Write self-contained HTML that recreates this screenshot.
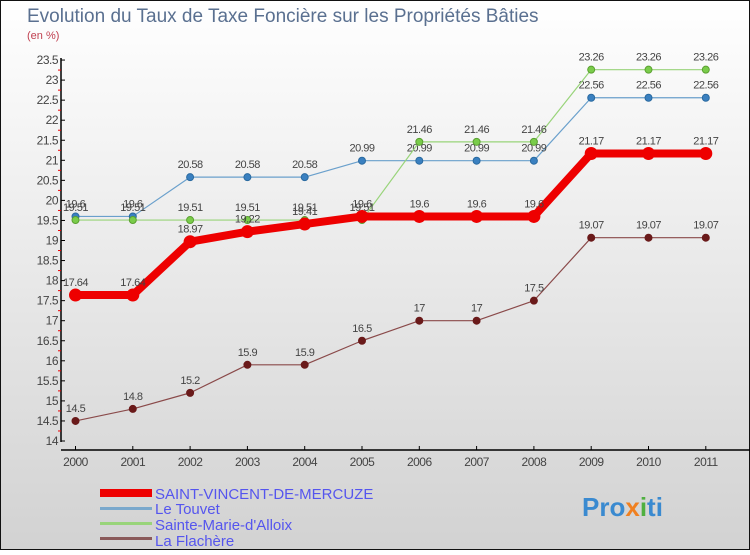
<!DOCTYPE html>
<html><head><meta charset="utf-8"><style>
body{margin:0}
#c{width:750px;height:550px;position:relative;font-family:"Liberation Sans",sans-serif}
</style></head><body>
<div id="c">
<svg id="s" width="750" height="550" xmlns="http://www.w3.org/2000/svg">
<defs><linearGradient id="bg" x1="0" y1="0" x2="0" y2="1"><stop offset="0" stop-color="#ffffff"/><stop offset="1" stop-color="#d2d2d2"/></linearGradient></defs>
<rect x="0.5" y="0.5" width="749" height="549" fill="url(#bg)" stroke="#111"/>
<text x="27" y="22" font-size="19" fill="#5a7090">Evolution du Taux de Taxe Foncière sur les Propriétés Bâties</text>
<text x="27" y="39" font-size="11" fill="#c04050">(en %)</text>
<g id="axes"></g><g id="series"></g>
<g>
<rect x="100" y="489" width="52" height="8" fill="#e00"/>
<text x="155" y="499" font-size="15" fill="#5555ee">SAINT-VINCENT-DE-MERCUZE</text>
<rect x="100" y="507" width="52" height="3" fill="#7aa8cc"/>
<text x="155" y="514" font-size="15" fill="#5555ee">Le Touvet</text>
<rect x="100" y="522" width="52" height="3" fill="#99d47a"/>
<text x="155" y="530" font-size="15" fill="#5555ee">Sainte-Marie-d'Alloix</text>
<rect x="100" y="537" width="52" height="3" fill="#8a5a5a"/>
<text x="155" y="546" font-size="15" fill="#5555ee">La Flachère</text>
</g>
<g>
<text x="582" y="516" font-size="26" font-weight="bold" fill="#3a8ad0">Pro<tspan fill="#f08020">x</tspan><tspan fill="#50b040">i</tspan>ti</text>
</g>
</svg></div>
<script>
const years=["2000","2001","2002","2003","2004","2005","2006","2007","2008","2009","2010","2011"];
const svm=[17.64,17.64,18.97,19.22,19.41,19.6,19.6,19.6,19.6,21.17,21.17,21.17];
const touvet=[19.6,19.6,20.58,20.58,20.58,20.99,20.99,20.99,20.99,22.56,22.56,22.56];
const sma=[19.51,19.51,19.51,19.51,19.51,19.51,21.46,21.46,21.46,23.26,23.26,23.26];
const flach=[14.5,14.8,15.2,15.9,15.9,16.5,17,17,17.5,19.07,19.07,19.07];
const yTicks=["14","14.5","15","15.5","16","16.5","17","17.5","18","18.5","19","19.5","20","20.5","21","21.5","22","22.5","23","23.5"];
const NS="http://www.w3.org/2000/svg";
const X=i=>75.5+i*57.3;
const Y=v=>441-(v-14)*40.1;
function mk(t,a,p){const e=document.createElementNS(NS,t);for(const k in a)e.setAttribute(k,a[k]);p.appendChild(e);return e;}
const ax=document.getElementById('axes');
const yl=mk('line',{x1:61,y1:58,x2:61,y2:442,stroke:'#000','stroke-width':1.5},ax);


const xl=mk('line',{x1:61,y1:450,x2:750,y2:450,stroke:'#000','stroke-width':1.5},ax);


yTicks.forEach((t,i)=>{const v=parseFloat(t);const y=Y(v);
 mk('line',{x1:61,y1:y,x2:65,y2:y,stroke:'#000'},ax);
 if(i<yTicks.length-1)mk('line',{x1:58,y1:Y(v+0.25),x2:61,y2:Y(v+0.25),stroke:'#e00'},ax);
 const tx=mk('text',{x:58,y:y+4,'font-size':12,fill:'#444','text-anchor':'end','letter-spacing':'-0.5'},ax);tx.textContent=t;
 
 });
years.forEach((yr,i)=>{const x=X(i);
 mk('line',{x1:x,y1:446,x2:x,y2:450,stroke:'#000'},ax);
 const tx=mk('text',{x:x,y:466,'font-size':12,fill:'#444','text-anchor':'middle','letter-spacing':'-0.5'},ax);tx.textContent=yr;
 
 });
const sg=document.getElementById('series');
function draw(arr,name,color,w,r,dot,stroke){
 const g=mk('g',{},sg);
 
 
 mk('polyline',{points:arr.map((v,i)=>X(i)+','+Y(v)).join(' '),fill:'none',stroke:color,'stroke-width':w,'stroke-linejoin':'round'},g);
 arr.forEach((v,i)=>{const c=mk('circle',{cx:X(i),cy:Y(v),r:r,fill:dot,stroke:stroke,'stroke-width':1},g);
  
  
  const t=mk('text',{x:X(i),y:Y(v)-9,'font-size':11,fill:'#444','text-anchor':'middle','letter-spacing':'-0.5'},g);t.textContent=String(v);
  
  });
}
draw(flach,'series-la-flachere','#8a4a4a',1.2,3.5,'#6a1a1a','#6a1a1a');
draw(touvet,'series-le-touvet','#6aa0cc',1.2,3.5,'#3a80c0','#2a6aa0');
draw(sma,'series-sainte-marie','#99d47a',1.2,3.5,'#7acc4a','#5aa030');
draw(svm,'series-saint-vincent','#ee0000',8,6,'#ee0000','#ee0000');
</script>
</body></html>
